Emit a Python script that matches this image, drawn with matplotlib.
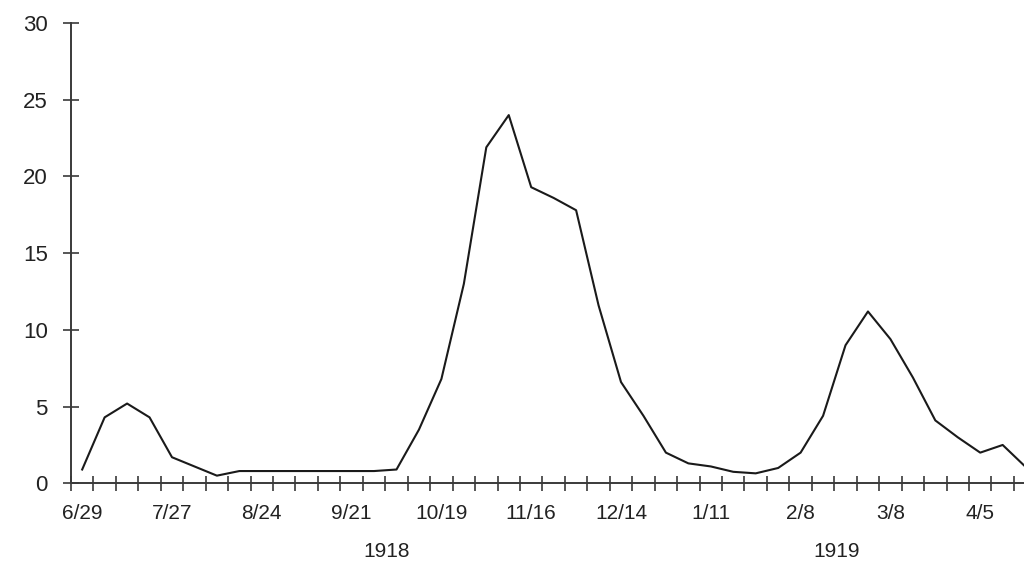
import matplotlib
matplotlib.use('Agg')
import matplotlib.pyplot as plt
import matplotlib.transforms as mtransforms
import numpy as np

# weekly values, 6/29/1918 onwards
values = [0.9, 4.3, 5.2, 4.3, 1.7, 1.1, 0.5, 0.8, 0.8, 0.8,
          0.8, 0.8, 0.8, 0.8, 0.9, 3.5, 6.8, 13.0, 21.9, 24.0,
          19.3, 18.6, 17.8, 11.6, 6.6, 4.4, 2.0, 1.3, 1.1, 0.75,
          0.65, 1.0, 2.0, 4.4, 9.0, 11.2, 9.4, 6.9, 4.1, 3.0,
          2.0, 2.5, 1.1]
tick_labels = ['6/29', '7/27', '8/24', '9/21', '10/19', '11/16',
               '12/14', '1/11', '2/8', '3/8', '4/5']
years = ['1918', '1919']
year_pos = [13.55, 33.6]

plt.rcParams['font.family'] = ['Liberation Sans', 'DejaVu Sans']
txt = '#222222'
ax_col = '#3a3a3a'

fig = plt.figure(figsize=(10.24, 5.76), dpi=100)
ax = fig.add_axes([0.0693, 0.1609, 0.9307, 0.7991])

x = np.arange(len(values))
ax.plot(x, values, color='#1a1a1a', lw=1.5)

ax.set_xlim(-0.5, 41.95)
ax.set_ylim(0, 30)

for s in ['top', 'right']:
    ax.spines[s].set_visible(False)
for s in ['left', 'bottom']:
    ax.spines[s].set_color(ax_col)
    ax.spines[s].set_linewidth(1.4)

ax.set_yticks(np.arange(0, 31, 5))
ax.tick_params(axis='y', direction='inout', length=11.5, width=1.2,
               color=ax_col, pad=11, labelsize=16, labelcolor=txt)

ax.set_xticks(np.arange(0, 41, 4))
ax.set_xticklabels(tick_labels)
ax.set_xticks(np.arange(-0.5, 42, 1), minor=True)
ax.tick_params(axis='x', which='major', length=0, pad=15,
               labelsize=15, labelcolor=txt)
ax.tick_params(axis='x', which='minor', direction='inout', length=10.8,
               width=1.2, color=ax_col)

trans = mtransforms.blended_transform_factory(ax.transData, ax.transAxes)
for yr, xp in zip(years, year_pos):
    ax.text(xp, -0.149, yr, transform=trans, ha='center', va='center',
            fontsize=15, color=txt)

fig.savefig('out.png', dpi=100)
